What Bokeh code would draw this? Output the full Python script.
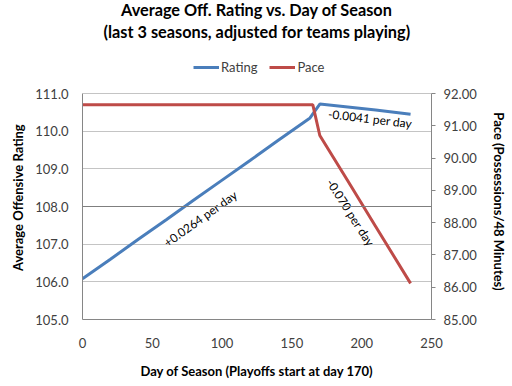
from bokeh.plotting import figure
from bokeh.models import (Range1d, LinearAxis, FixedTicker, NumeralTickFormatter,
                          Legend, LegendItem, Label, Span)
from bokeh.core.properties import value
from bokeh.embed import file_html
from bokeh.resources import INLINE

# ---- data ----
rating_days = [0, 20, 40, 60, 80, 100, 120, 140, 163, 170, 190, 210, 235]
rating = [106.08, 106.60, 107.13, 107.65, 108.18, 108.70, 109.22, 109.75, 110.35,
          110.72, 110.64, 110.56, 110.45]
pace_days = [0, 165, 170, 190, 210, 235]
pace = [91.65, 91.65, 90.70, 89.30, 87.88, 86.12]
x_ticks = [0, 50, 100, 150, 200, 250]
rating_ticks = [105, 106, 107, 108, 109, 110, 111]
pace_ticks = [85, 86, 87, 88, 89, 90, 91, 92]
title_lines = ["Average Off. Rating vs. Day of Season",
               "(last 3 seasons, adjusted for teams playing)"]
axis_titles = ["Day of Season (Playoffs start at day 170)",
               "Average Offensive Rating", "Pace (Possessions/48 Minutes)"]
notes = ["+0.0264 per day", "-0.0041 per day", "-0.070 per day"]

FONT = "Lato"
BLUE = "#4a7ebb"
RED = "#be4b48"
TICK_COL = "#404040"
PAD = "\u2007"   # figure space: shifts the vertical axis titles onto the plotted span

# geometry: the frame reaches the top of the canvas so that the title area and
# legend sit inside it; axes are bounded to the real data ranges.
W, H = 512, 386
B_LEFT, B_RIGHT, B_BOTTOM = 82, 81, 67
FRAME_H = H - B_BOTTOM            # 319
PLOT_TOP = 93                     # where 111.0 / 92.00 sit (px from top)
PLOT_H = FRAME_H - PLOT_TOP       # 226
r_lo, r_hi = rating_ticks[0], rating_ticks[-1]
p_lo, p_hi = pace_ticks[0], pace_ticks[-1]
r_top = r_hi + (r_hi - r_lo) * PLOT_TOP / PLOT_H
p_top = p_hi + (p_hi - p_lo) * PLOT_TOP / PLOT_H
fw = W - B_LEFT - B_RIGHT

p = figure(width=W, height=H, output_backend="svg", toolbar_location=None,
           x_range=Range1d(0, 250), y_range=Range1d(r_lo, r_top),
           min_border_left=B_LEFT, min_border_right=B_RIGHT, min_border_top=0,
           min_border_bottom=B_BOTTOM)
p.title = None
p.outline_line_color = None
p.background_fill_color = "white"
p.border_fill_color = "white"

p.extra_y_ranges = {"pace": Range1d(p_lo, p_top)}

# grid
p.xgrid.grid_line_color = None
p.ygrid.grid_line_color = "#c4c4c4"
p.ygrid.ticker = FixedTicker(ticks=rating_ticks)
p.add_layout(Span(location=108, dimension="width", line_color="#7f7f7f", line_width=1))

# bottom axis
xa = p.xaxis[0]
xa.ticker = FixedTicker(ticks=x_ticks)
xa.axis_line_color = "#868686"
xa.major_tick_line_color = None
xa.major_tick_out = 0
xa.major_tick_in = 0
xa.minor_tick_line_color = None
xa.major_label_standoff = 18
xa.major_label_text_font = FONT
xa.major_label_text_font_size = "13px"
xa.major_label_text_color = TICK_COL
xa.axis_label = axis_titles[0]
xa.axis_label_text_font = FONT
xa.axis_label_text_font_size = "13px"
xa.axis_label_text_font_style = "bold"
xa.axis_label_text_color = "black"
xa.axis_label_standoff = 12

# left axis
ya = p.yaxis[0]
ya.ticker = FixedTicker(ticks=rating_ticks)
ya.bounds = (r_lo, r_hi)
ya.formatter = NumeralTickFormatter(format="0.0")
ya.axis_line_color = "#868686"
ya.major_tick_line_color = None
ya.major_tick_out = 0
ya.major_tick_in = 0
ya.minor_tick_line_color = None
ya.major_label_standoff = 14
ya.major_label_text_font = FONT
ya.major_label_text_font_size = "13px"
ya.major_label_text_color = TICK_COL
ya.axis_label = axis_titles[1] + PAD * 10
ya.axis_label_text_font = FONT
ya.axis_label_text_font_size = "13px"
ya.axis_label_text_font_style = "bold"
ya.axis_label_text_color = "black"
ya.axis_label_standoff = 6

# right axis
ra = LinearAxis(y_range_name="pace")
ra.ticker = FixedTicker(ticks=pace_ticks)
ra.bounds = (p_lo, p_hi)
ra.formatter = NumeralTickFormatter(format="0.00")
ra.axis_line_color = "#868686"
ra.major_tick_line_color = "#868686"
ra.major_tick_out = 4
ra.major_tick_in = 0
ra.minor_tick_line_color = None
ra.major_label_standoff = 8
ra.major_label_text_font = FONT
ra.major_label_text_font_size = "13px"
ra.major_label_text_color = TICK_COL
ra.axis_label = PAD * 11 + axis_titles[2]
ra.axis_label_text_font = FONT
ra.axis_label_text_font_size = "13px"
ra.axis_label_text_font_style = "bold"
ra.axis_label_text_color = "black"
ra.axis_label_standoff = 11
p.add_layout(ra, "right")

# lines
r_rating = p.line(rating_days, rating, line_color=BLUE, line_width=3)
r_pace = p.line(pace_days, pace, line_color=RED, line_width=3, y_range_name="pace")

# annotations
p.text(x=[84.5], y=[107.68], text=[notes[0]], angle=0.62, text_align="center",
       text_baseline="middle", text_font=value(FONT), text_font_size="12px",
       text_color="black")
p.text(x=[206], y=[110.33], text=[notes[1]], angle=-0.12, text_align="center",
       text_baseline="middle", text_font=value(FONT), text_font_size="12px",
       text_color="black")
p.text(x=[192], y=[107.84], text=[notes[2]], angle=-1.0, text_align="center",
       text_baseline="middle", text_font=value(FONT), text_font_size="12px",
       text_color="black")

# legend (position in screen px from the frame's bottom-left)
legend = Legend(items=[LegendItem(label="Rating", renderers=[r_rating]),
                       LegendItem(label="Pace", renderers=[r_pace])],
                orientation="horizontal", location=(111, FRAME_H - 75),
                label_text_font=FONT, label_text_font_size="13px",
                label_text_color=TICK_COL, glyph_width=26, glyph_height=14,
                label_height=14, label_standoff=2, spacing=12, padding=2, margin=0,
                border_line_color=None, background_fill_alpha=0)
p.add_layout(legend, "center")

# two-line title
p.add_layout(Label(x=fw / 2, y=FRAME_H - 9, x_units="screen", y_units="screen",
                   text=title_lines[0], text_align="center", text_baseline="middle",
                   text_font=FONT, text_font_size="16.3px", text_font_style="bold",
                   text_color="black"))
p.add_layout(Label(x=fw / 2, y=FRAME_H - 31, x_units="screen", y_units="screen",
                   text=title_lines[1], text_align="center", text_baseline="middle",
                   text_font=FONT, text_font_size="16.3px", text_font_style="bold",
                   text_color="black"))

open("out.html", "w").write(file_html(p, INLINE))
